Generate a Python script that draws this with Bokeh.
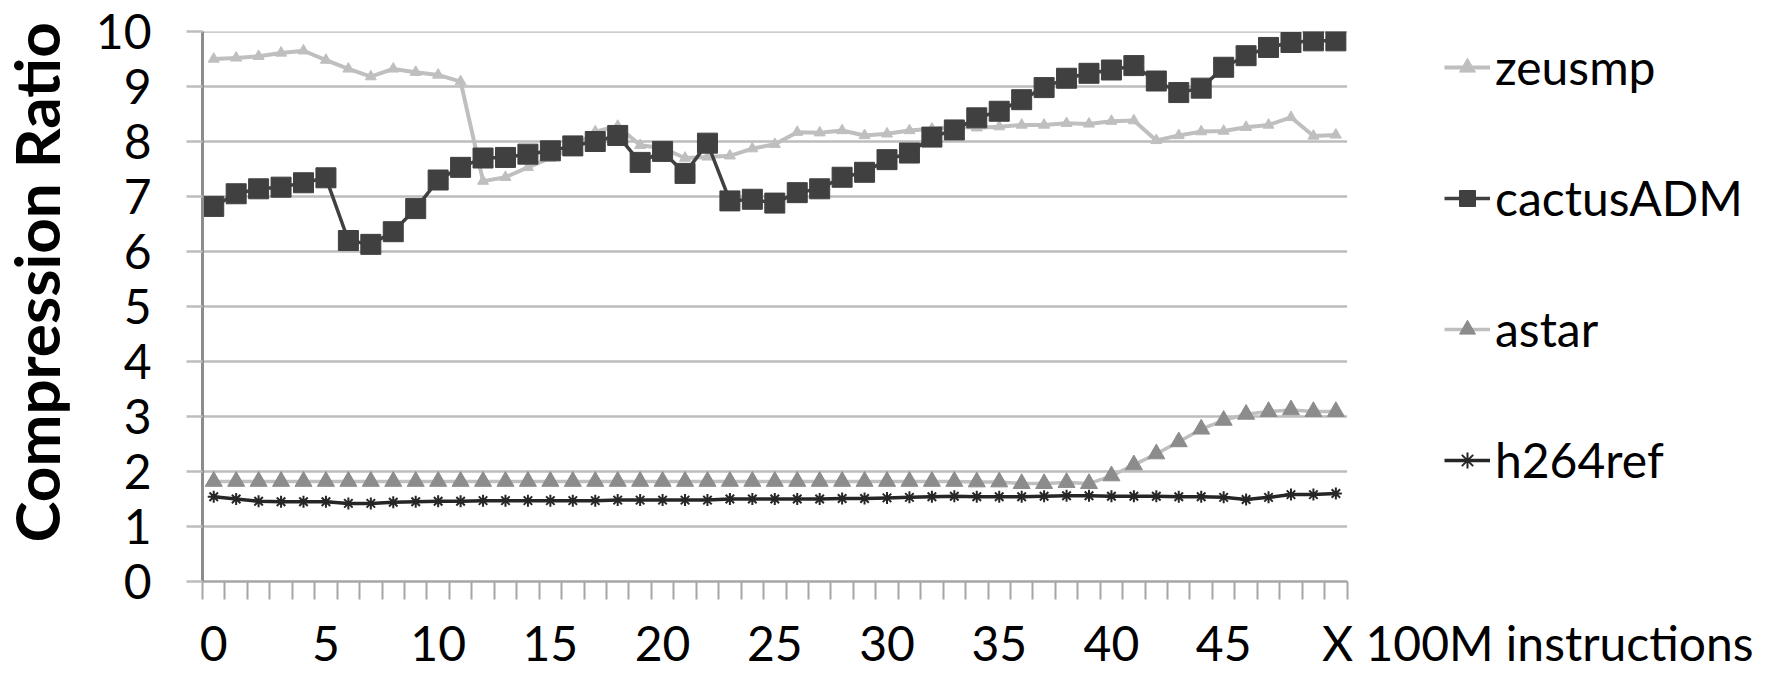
from bokeh.plotting import figure
from bokeh.models import Range1d, FixedTicker, Legend, LegendItem, Title
from bokeh.embed import file_html
from bokeh.resources import INLINE

# ---------------- data ----------------
steps = list(range(51))

zeusmp = [9.50, 9.52, 9.55, 9.61, 9.65, 9.48, 9.32, 9.18, 9.32, 9.26,
          9.21, 9.09, 7.28, 7.35, 7.53, 7.70, 7.89, 8.18, 8.28, 7.93,
          7.88, 7.70, 7.72, 7.74, 7.87, 7.95, 8.17, 8.16, 8.20, 8.11,
          8.14, 8.20, 8.23, 8.27, 8.25, 8.27, 8.30, 8.30, 8.33, 8.32,
          8.37, 8.38, 8.02, 8.11, 8.18, 8.19, 8.26, 8.30, 8.44, 8.10,
          8.12]

cactusADM = [6.82, 7.05, 7.14, 7.17, 7.25, 7.34, 6.20, 6.13, 6.36, 6.78,
             7.30, 7.53, 7.70, 7.71, 7.77, 7.83, 7.92, 8.00, 8.11, 7.62,
             7.82, 7.42, 7.97, 6.92, 6.95, 6.88, 7.07, 7.14, 7.35, 7.44,
             7.67, 7.79, 8.08, 8.21, 8.43, 8.55, 8.76, 8.98, 9.15, 9.24,
             9.30, 9.38, 9.10, 8.89, 8.97, 9.35, 9.56, 9.71, 9.80, 9.83,
             9.83]

astar = [1.82, 1.82, 1.82, 1.82, 1.82, 1.82, 1.82, 1.82, 1.82, 1.82,
         1.82, 1.82, 1.82, 1.82, 1.82, 1.82, 1.82, 1.82, 1.82, 1.82,
         1.82, 1.82, 1.82, 1.82, 1.82, 1.82, 1.82, 1.82, 1.82, 1.82,
         1.82, 1.82, 1.82, 1.82, 1.81, 1.81, 1.78, 1.78, 1.80, 1.78,
         1.92, 2.12, 2.32, 2.54, 2.77, 2.93, 3.04, 3.09, 3.12, 3.09,
         3.09]

h264ref = [1.54, 1.50, 1.46, 1.45, 1.45, 1.45, 1.42, 1.42, 1.44, 1.45,
           1.46, 1.46, 1.47, 1.47, 1.47, 1.47, 1.47, 1.47, 1.48, 1.48,
           1.48, 1.48, 1.48, 1.50, 1.50, 1.50, 1.50, 1.50, 1.51, 1.51,
           1.52, 1.53, 1.54, 1.55, 1.54, 1.54, 1.54, 1.55, 1.56, 1.56,
           1.55, 1.55, 1.55, 1.54, 1.54, 1.53, 1.49, 1.53, 1.58, 1.58,
           1.60]

series_names = ["zeusmp", "cactusADM", "astar", "h264ref"]
y_ticks = list(range(0, 11))
x_label_ticks = list(range(0, 50, 5))
x_boundaries = [i - 0.5 for i in range(len(steps) + 1)]
y_title = "Compression Ratio"
x_title = "X 100M instructions"
x_title_pos = 59.0

FONT = "Lato"
EXTRA = 40   # room on the left for the axis title, shifted off-page by a negative margin

# ---------------- figure ----------------
p = figure(width=1773 + EXTRA, height=673, output_backend="svg", toolbar_location=None,
           x_range=Range1d(-0.5, 69.5), y_range=Range1d(0, 10),
           min_border_left=202 + EXTRA, min_border_right=0, min_border_top=31,
           min_border_bottom=91, margin=(0, 0, 0, -EXTRA))
p.outline_line_color = None
p.xgrid.visible = False
p.ygrid.visible = False
p.background_fill_color = "white"
p.border_fill_color = "white"

# horizontal gridlines limited to the category span
gy = y_ticks[1:]
p.segment(x0=[x_boundaries[0]] * len(gy), x1=[x_boundaries[-1]] * len(gy),
          y0=gy, y1=gy, line_color="#BDBDBD", line_width=2.5)

# y axis
ya = p.yaxis[0]
ya.ticker = FixedTicker(ticks=y_ticks)
ya.axis_line_color = "#8C8C8C"
ya.axis_line_width = 3
ya.major_tick_out = 16
ya.major_tick_in = 0
ya.major_tick_line_color = "#BDBDBD"
ya.major_tick_line_width = 2.5
ya.minor_tick_line_color = None
ya.major_label_text_font = FONT
ya.major_label_text_font_size = "48px"
ya.major_label_text_color = "black"
ya.major_label_standoff = 35

# x axis
xa = p.xaxis[0]
xa.ticker = FixedTicker(ticks=x_label_ticks + [x_title_pos], minor_ticks=x_boundaries)
xa.major_label_overrides = {x_title_pos: x_title}
xa.bounds = (x_boundaries[0], x_boundaries[-1])
xa.axis_line_color = "#A6A6A6"
xa.axis_line_width = 2.5
xa.major_tick_out = 0
xa.major_tick_in = 0
xa.minor_tick_out = 18
xa.minor_tick_in = 0
xa.minor_tick_line_color = "#A6A6A6"
xa.minor_tick_line_width = 2
xa.major_label_text_font = FONT
xa.major_label_text_font_size = "48px"
xa.major_label_text_color = "black"
xa.major_label_standoff = 14

# y axis title as a left-side title, aligned toward the bottom with an offset
p.add_layout(Title(text=y_title, align="left", offset=39, standoff=39,
                   text_font=FONT, text_font_style="bold",
                   text_font_size="62px", text_color="black"), "left")

# ---------------- series ----------------
zl = p.line(steps, zeusmp, line_color="#BFBFBF", line_width=4)
zp = p.scatter(steps, zeusmp, marker="triangle", size=11,
               fill_color="#BFBFBF", line_color="#BFBFBF")

cl = p.line(steps, cactusADM, line_color="#404040", line_width=3.5)
cp = p.scatter(steps, cactusADM, marker="square", size=20,
               fill_color="#404040", line_color="#404040")

al = p.line(steps, astar, line_color="#BFBFBF", line_width=3.5)
ap = p.scatter(steps, astar, marker="triangle", size=17,
               fill_color="#8C8C8C", line_color="#8C8C8C")

hl = p.line(steps, h264ref, line_color="#262626", line_width=3.5)
hp = p.scatter(steps, h264ref, marker="asterisk", size=12,
               line_color="#262626", line_width=2)

legend = Legend(items=[
    LegendItem(label=series_names[0], renderers=[zl, zp]),
    LegendItem(label=series_names[1], renderers=[cl, cp]),
    LegendItem(label=series_names[2], renderers=[al, ap]),
    LegendItem(label=series_names[3], renderers=[hl, hp]),
], location=(1242, 93), orientation="vertical", glyph_width=46, glyph_height=40,
    label_standoff=5, spacing=74, padding=0, margin=0,
    border_line_color=None, background_fill_alpha=0,
    label_text_font=FONT, label_text_font_size="48px", label_text_color="black")
p.add_layout(legend)

open("out.html", "w").write(file_html(p, INLINE))
